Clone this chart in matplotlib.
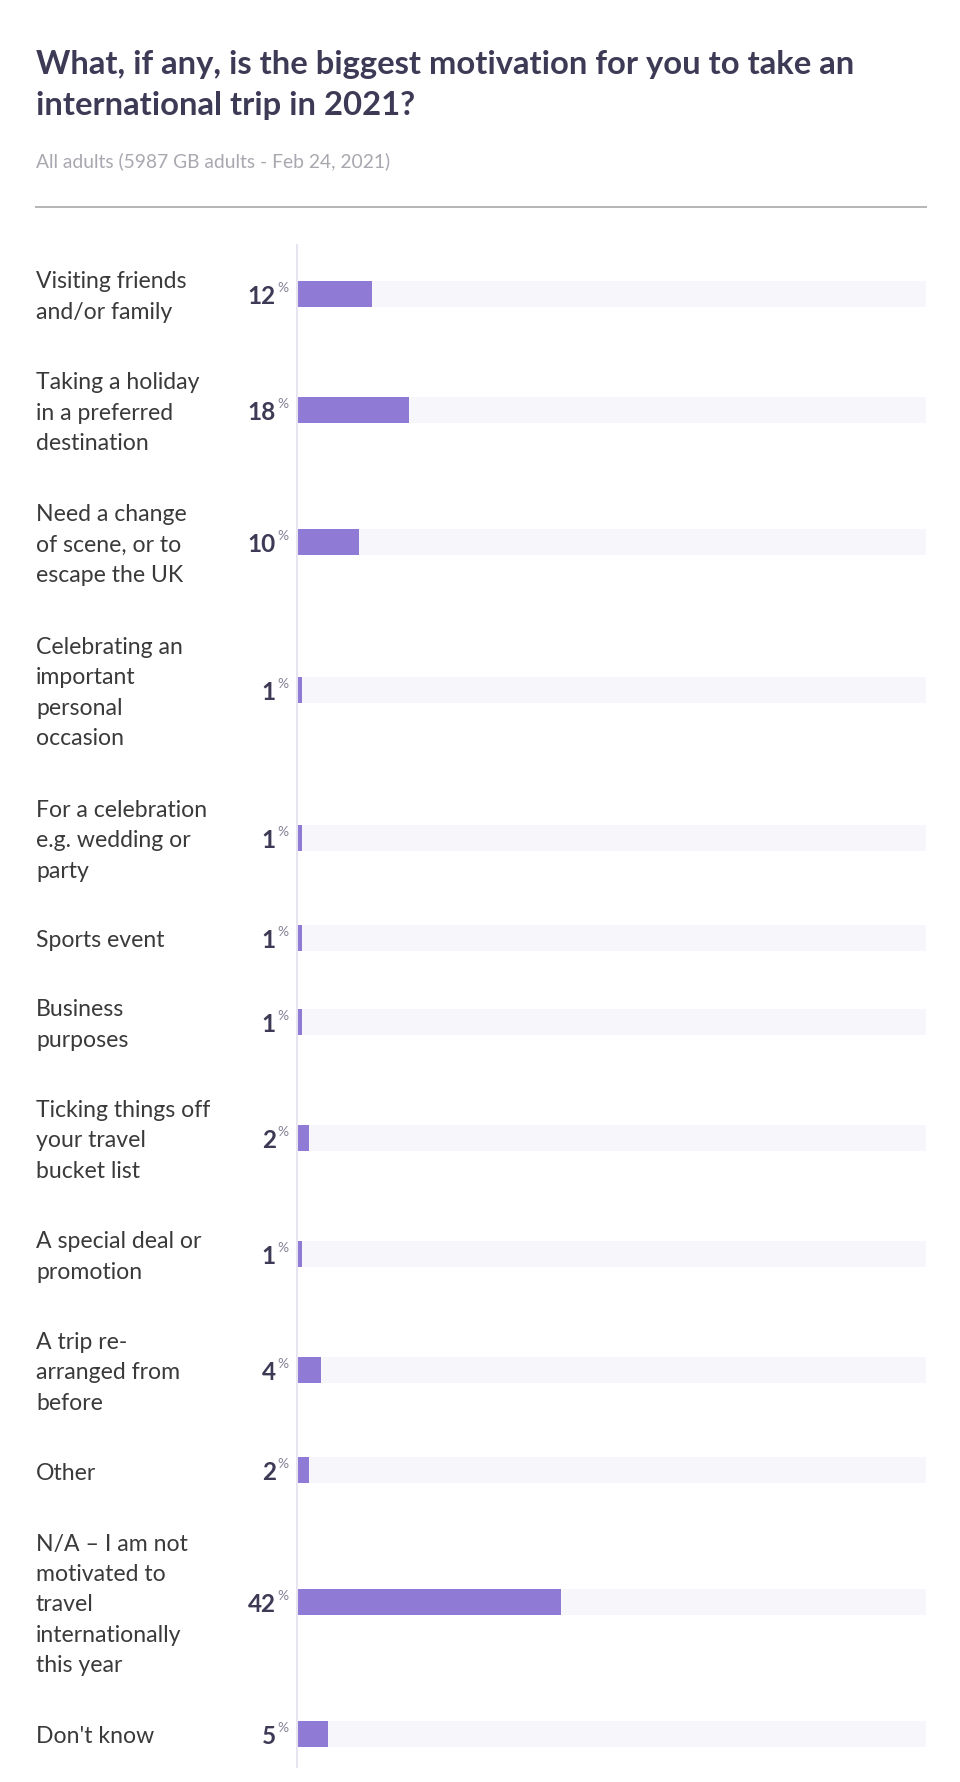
import matplotlib
matplotlib.use("Agg")
import matplotlib.pyplot as plt
from matplotlib.transforms import blended_transform_factory

# 数据
labels = [
    "Visiting friends\nand/or family",
    "Taking a holiday\nin a preferred\ndestination",
    "Need a change\nof scene, or to\nescape the UK",
    "Celebrating an\nimportant\npersonal\noccasion",
    "For a celebration\ne.g. wedding or\nparty",
    "Sports event",
    "Business\npurposes",
    "Ticking things off\nyour travel\nbucket list",
    "A special deal or\npromotion",
    "A trip re-\narranged from\nbefore",
    "Other",
    "N/A \u2013 I am not\nmotivated to\ntravel\ninternationally\nthis year",
    "Don't know",
]
values = [12, 18, 10, 1, 1, 1, 1, 2, 1, 4, 2, 42, 5]

title = "What, if any, is the biggest motivation for you to take an\ninternational trip in 2021?"
subtitle = "All adults (5987 GB adults - Feb 24, 2021)"

FONT = ["Lato", "DejaVu Sans"]
W, H = 960, 1783

fig = plt.figure(figsize=(W / 100, H / 100), dpi=100)
fig.patch.set_facecolor("white")

# 每行高度按标签行数计算（像素单位）
row_h = [36.4 + 31.85 * (lab.count("\n") + 1) for lab in labels]
centers = []
acc = 0
for h in row_h:
    centers.append(acc + h / 2)
    acc += h
total = acc

ax_top, ax_bot = 245, 1769
ax = fig.add_axes([296 / W, 1 - ax_bot / H, 630 / W, (ax_bot - ax_top) / H])
ax.set_xlim(0, 100)
ax.set_ylim(total, 0)
ax.axis("off")

ax.barh(centers, [100] * len(values), height=26, color="#f7f7fb", left=0)
ax.barh(centers, values, height=26, color="#8f7bd6", left=0)
ax.axvline(0, color="#e6e4ef", lw=2.2)

tr = blended_transform_factory(fig.transFigure, ax.transData)
for lab, c, v in zip(labels, centers, values):
    ax.text(36 / W, c + 2, lab, transform=tr, ha="left", va="center",
            fontsize=16.6, family=FONT, color="#3a3a3a", linespacing=1.55)
    ax.text(276 / W, c + 9, str(v), transform=tr, ha="right", va="baseline",
            fontsize=17.5, fontweight="bold", family=FONT, color="#3d3a56")
    ax.text(277 / W, c - 3, "%", transform=tr, ha="left", va="baseline",
            fontsize=10, family=FONT, color="#858396")

fig.text(36 / W, 1 - 115 / H, title, ha="left", va="baseline", fontsize=23.6,
         fontweight="bold", family=FONT, color="#3d3a56", linespacing=1.5)
fig.text(36 / W, 1 - 167 / H, subtitle, ha="left", va="baseline", fontsize=13.9,
         family=FONT, color="#a8a8b0")
fig.add_artist(plt.Line2D([36 / W, 926 / W], [1 - 208 / H, 1 - 208 / H],
                          color="#b5b5b8", lw=1.4))

fig.savefig("out.png", dpi=100, facecolor="white")
